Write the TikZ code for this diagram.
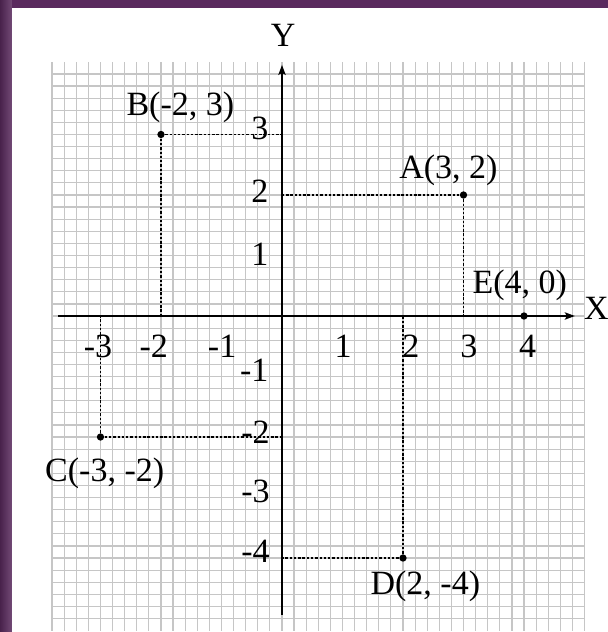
\documentclass[tikz,border=0pt]{standalone}
\usepackage{fontspec}
\setmainfont{Liberation Serif}
\usetikzlibrary{arrows.meta}
\definecolor{frame}{RGB}{90,42,94}
\definecolor{gridc}{RGB}{198,198,198}
\tikzset{
  gridline/.style={draw=gridc, line width=0.9pt},
  axisline/.style={draw=black, line width=1.1pt, -{Stealth[length=7.5pt,width=5.5pt,inset=1.5pt]}},
  dotline/.style={draw=black, line width=1pt, dash pattern=on 1.8pt off 1.4pt},
  dot/.style={circle, fill=black, inner sep=0pt, minimum size=5.5pt},
  lbl/.style={inner sep=0pt, font=\fontsize{25.5}{30}\selectfont, anchor=base},
  ylbl/.style={inner sep=0pt, font=\fontsize{25.5}{30}\selectfont, anchor=base east},
}
\begin{document}
\begin{tikzpicture}[x=45.375pt,y=45.375pt]
\useasboundingbox (-4.661,-5.223) rectangle (5.388,5.223);
\fill[white] (-4.661,-5.223) rectangle (5.388,5.223);
% frame
\fill[frame] (-4.661,5.099) rectangle (5.388,5.223);
\shade[left color=frame!80!black, right color=frame!85!white] (-4.661,-5.223) rectangle (-4.463,5.223);
% grid
\foreach \i in {-19,...,25} \draw[gridline] (\i/5,-5.2) -- (\i/5,4.2);
\foreach \j in {-25,...,20} \draw[gridline] (-3.8,\j/5) -- (5,\j/5);
% axes
\coordinate (xs) at (-3.7,0);
\coordinate (xe) at (4.84,0);
\coordinate (ys) at (0,-4.94);
\coordinate (ye) at (0,4.15);
\draw[axisline] (xs) -- (xe);
\draw[axisline] (ys) -- (ye);
\node[lbl, anchor=base west] (X) at (4.99,-0.05) {X};
\node[lbl] (Y) at (0.02,4.45) {Y};
% points
\node[dot] (A) at (3,2) {};
\node[dot] (B) at (-2,3) {};
\node[dot] (C) at (-3,-2) {};
\node[dot] (D) at (2,-4) {};
\node[dot] (E) at (4,0) {};
\coordinate (Ax) at (3,0); \coordinate (Ay) at (0,2);
\coordinate (Bx) at (-2,0); \coordinate (By) at (0,3);
\coordinate (Cx) at (-3,0); \coordinate (Cy) at (0,-2);
\coordinate (Dx) at (2,0); \coordinate (Dy) at (0,-4);
\draw[dotline] (A.center) -- (Ax); \draw[dotline] (A.center) -- (Ay);
\draw[dotline] (B.center) -- (Bx); \draw[dotline] (B.center) -- (By);
\draw[dotline] (C.center) -- (Cx); \draw[dotline] (C.center) -- (Cy);
\draw[dotline] (D.center) -- (Dx); \draw[dotline] (D.center) -- (Dy);
% point labels
\node[lbl] (Al) at (2.75,2.28) {A(3, 2)};
\node[lbl] (Bl) at (-1.68,3.31) {B(-2, 3)};
\node[lbl] (Cl) at (-2.93,-2.73) {C(-3, -2)};
\node[lbl] (Dl) at (2.37,-4.61) {D(2, -4)};
\node[lbl] (El) at (3.93,0.38) {E(4, 0)};
% x tick labels
\node[lbl] (xm3) at (-3.04,-0.68) {-3};
\node[lbl] (xm2) at (-2.12,-0.68) {-2};
\node[lbl] (xm1) at (-0.99,-0.68) {-1};
\node[lbl] (xp1) at (1.01,-0.68) {1};
\node[lbl] (xp2) at (2.13,-0.68) {2};
\node[lbl] (xp3) at (3.09,-0.68) {3};
\node[lbl] (xp4) at (4.06,-0.68) {4};
% y tick labels
\node[ylbl] (yp3) at (-0.22,2.91) {3};
\node[ylbl] (yp2) at (-0.22,1.87) {2};
\node[ylbl] (yp1) at (-0.22,0.84) {1};
\node[ylbl] (ym1) at (-0.22,-1.08) {-1};
\node[ylbl] (ym2) at (-0.20,-2.10) {-2};
\node[ylbl] (ym3) at (-0.20,-3.09) {-3};
\node[ylbl] (ym4) at (-0.20,-4.08) {-4};
\end{tikzpicture}
\end{document}
